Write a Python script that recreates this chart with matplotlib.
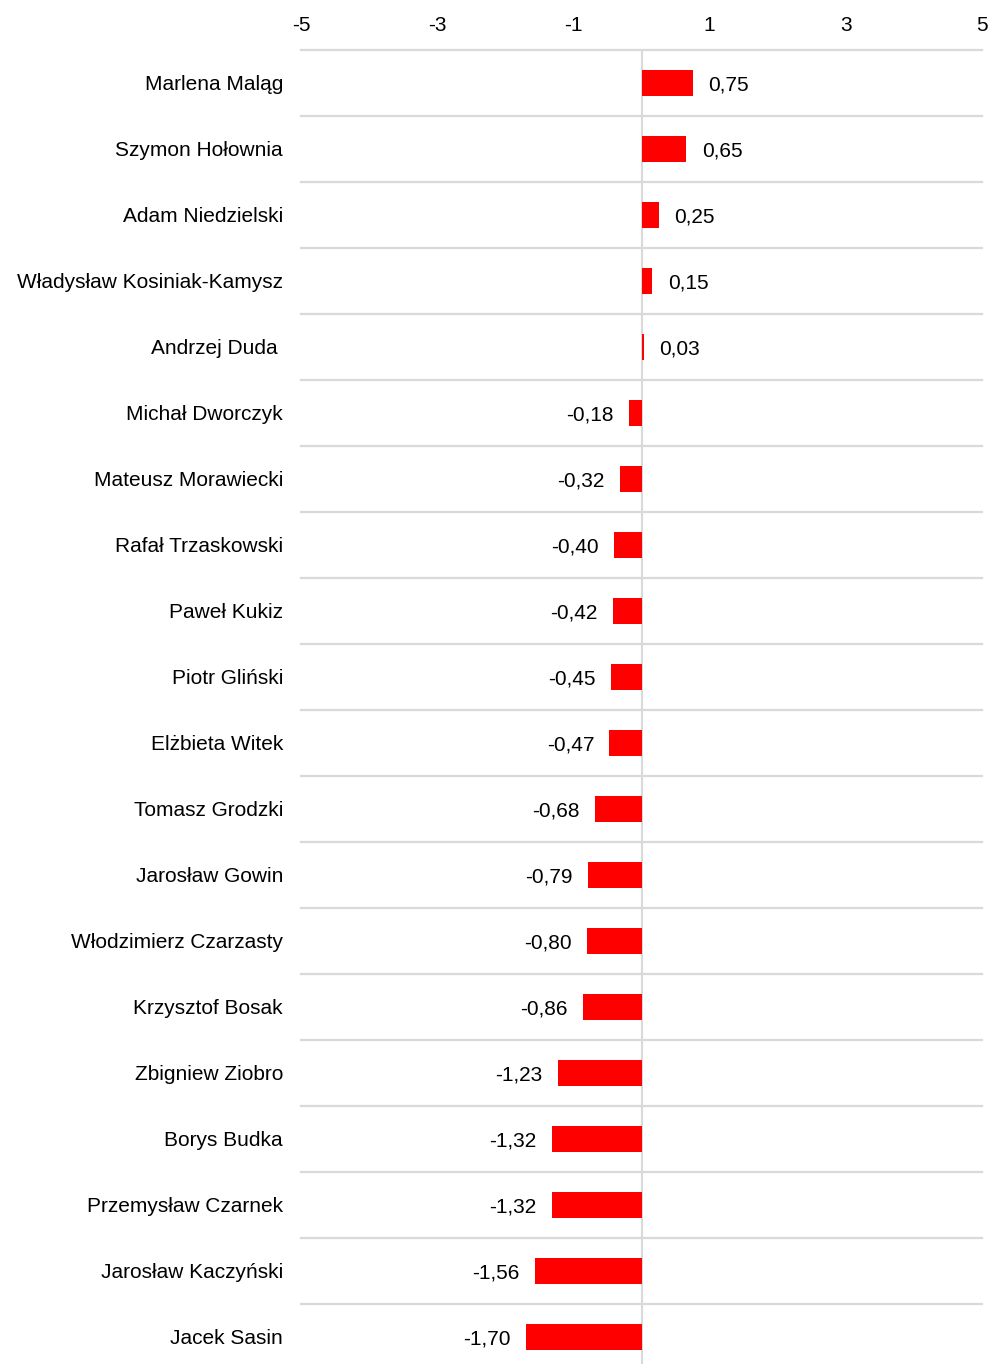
import matplotlib
matplotlib.use("Agg")
import matplotlib.pyplot as plt

plt.rcParams['font.family'] = ['Liberation Sans', 'DejaVu Sans']

# Data
names = [
    "Marlena Maląg", "Szymon Hołownia", "Adam Niedzielski",
    "Władysław Kosiniak-Kamysz", "Andrzej Duda ", "Michał Dworczyk",
    "Mateusz Morawiecki", "Rafał Trzaskowski", "Paweł Kukiz",
    "Piotr Gliński", "Elżbieta Witek", "Tomasz Grodzki", "Jarosław Gowin",
    "Włodzimierz Czarzasty", "Krzysztof Bosak", "Zbigniew Ziobro",
    "Borys Budka", "Przemysław Czarnek", "Jarosław Kaczyński", "Jacek Sasin",
]
values = [0.75, 0.65, 0.25, 0.15, 0.03, -0.18, -0.32, -0.40, -0.42, -0.45,
          -0.47, -0.68, -0.79, -0.80, -0.86, -1.23, -1.32, -1.32, -1.56, -1.70]
xticks = [-5, -3, -1, 1, 3, 5]

FS = 15
W, H = 991, 1364
fig = plt.figure(figsize=(W / 100, H / 100), dpi=100)
ax = fig.add_axes([301 / W, 0, (982 - 301) / W, 1 - 50 / H])

ypos = list(range(len(names)))
ax.set_xlim(-5, 5)
ax.set_ylim(len(names) - 1 + 27 / 66, -0.5)

# row separators and zero line
for y in ypos:
    ax.axhline(y - 0.5, color="#d9d9d9", lw=1.6, zorder=1, clip_on=False)
ax.axvline(0, color="#d9d9d9", lw=1.5, zorder=1)

ax.barh(ypos, values, height=0.4, color="#ff0000", zorder=2)

for y, v in zip(ypos, values):
    txt = f"{v:.2f}".replace(".", ",")
    if v >= 0:
        ax.annotate(txt, (v, y), xytext=(11.5, 0), textcoords="offset points",
                    ha="left", va="center_baseline", fontsize=FS)
    else:
        ax.annotate(txt, (v, y), xytext=(-11, 0), textcoords="offset points",
                    ha="right", va="center_baseline", fontsize=FS)

ax.set_yticks(ypos)
ax.set_yticklabels(names, fontsize=FS)
ax.set_xticks(xticks)
ax.set_xticklabels([str(t) for t in xticks], fontsize=FS)
ax.xaxis.tick_top()
ax.tick_params(axis="both", length=0)
ax.tick_params(axis="x", pad=11)
ax.tick_params(axis="y", pad=13)
for s in ax.spines.values():
    s.set_visible(False)

fig.savefig("out.png", dpi=100)
